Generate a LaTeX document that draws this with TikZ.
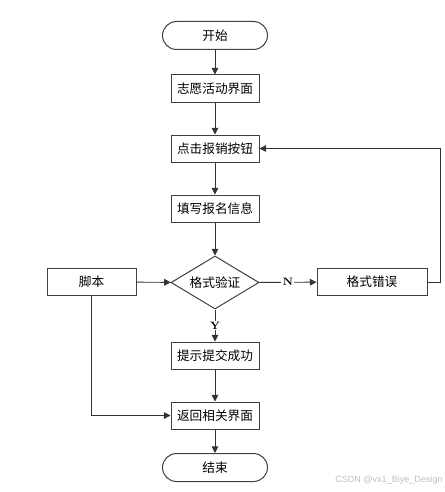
\documentclass[tikz,border=0pt]{standalone}
\usepackage{fontspec}
\newfontfamily\cjk{Noto Sans CJK SC}
\newfontfamily\wmfont{Liberation Sans}
\usetikzlibrary{arrows.meta,shapes.geometric}

\tikzset{
  box/.style={draw=black!75, line width=0.75pt, minimum width=66pt, minimum height=20.25pt,
    inner sep=0pt, font=\cjk\fontsize{9.5}{11}\selectfont},
  term/.style={box, rounded corners=10.5pt, minimum width=78.75pt, minimum height=21pt},
  test/.style={box, diamond, aspect=1.7, minimum width=66pt, minimum height=39.75pt},
  line/.style={draw=black!80, line width=0.7pt, -{Triangle[length=5pt,width=5pt]}},
  lbl/.style={fill=white, inner sep=1pt, font=\bfseries\fontsize{8}{9}\selectfont}
}

\begin{document}
\begin{tikzpicture}[x=0.75pt,y=-0.75pt]
    \useasboundingbox (0,0) rectangle (445,492);
    % main column
    \node[term] (start) at (215,35.5) {开始};
    \node[box] (ui) at (215,88.5) {志愿活动界面};
    \node[box] (click) at (215,148.5) {点击报销按钮};
    \node[box] (fill) at (215,208.5) {填写报名信息};
    \node[test] (check) at (215,282.5) {格式验证};
    \node[box] (tip) at (215,355.5) {提示提交成功};
    \node[box] (back) at (215,415.5) {返回相关界面};
    \node[term] (stop) at (215,467.5) {结束};
    % side boxes
    \node[box, minimum width=66.75pt] (script) at (91.5,282) {脚本};
    \node[box, minimum width=82.5pt] (err) at (372,282) {格式错误};

    \draw[line] (start) -- (ui);
    \draw[line] (ui) -- (click);
    \draw[line] (click) -- (fill);
    \draw[line] (fill) -- (check);
    \draw[line] (check) -- node[lbl] {N} (err);
    \draw[line] (check) -- node[lbl] {Y} (tip);
    \draw[line] (err.east) -- ++(13,0) |- (click.east); % back to the button
    \draw[line] (script) -- (check);
    \draw[line] (script.south) |- (back.west);
    \draw[line] (tip) -- (back);
    \draw[line] (back) -- (stop);

    \node[anchor=east, text=black!25, inner sep=0pt, font=\wmfont\fontsize{6.8}{8}\selectfont]
      (mark) at (443,480.5) {CSDN @vx1\_Biye\_Design};
\end{tikzpicture}
\end{document}
